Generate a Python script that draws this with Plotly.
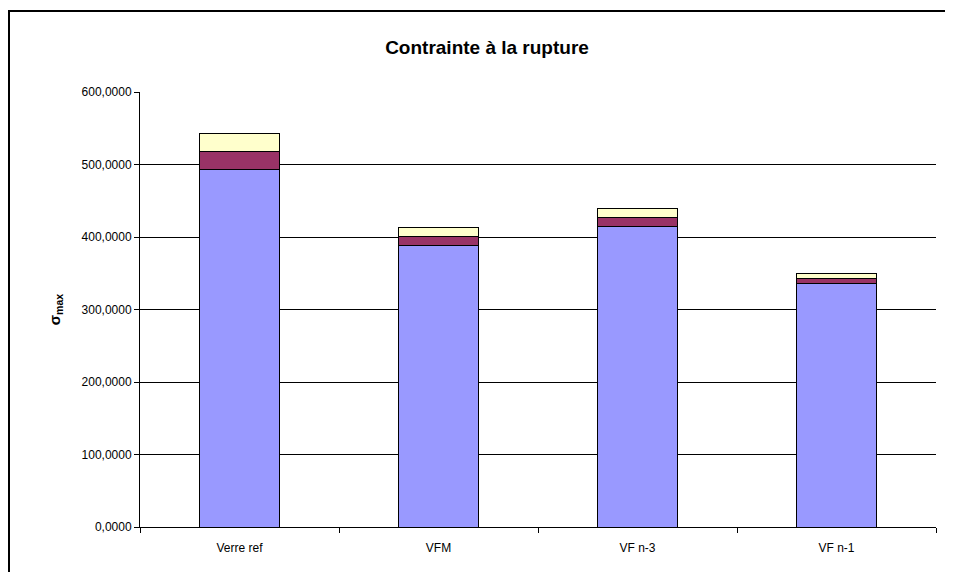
import plotly.graph_objects as go

categories = ["Verre ref", "VFM", "VF n-3", "VF n-1"]
base_values = [493, 388, 414, 336]
mid_values = [25, 12.5, 13, 6.5]
top_values = [25, 13, 13, 6.5]

colors = ["#9999FF", "#993366", "#FFFFCC"]
names = ["base", "mid", "top"]

fig = go.Figure()
for vals, c, n in zip([base_values, mid_values, top_values], colors, names):
    fig.add_trace(go.Bar(
        x=categories, y=vals, name=n,
        marker=dict(color=c, line=dict(color="#000000", width=1)),
        width=0.4,
    ))

OFF = 8  # page body margin
W, H = 953 - 2 * OFF, 580 - 2 * OFF
L, R, T, B = 140 - OFF, 936 - OFF, 92 - OFF, 527 - OFF
pw, ph = R - L, B - T

def px(x):
    return (x - OFF - L) / pw

def py(y):
    return (B - (y - OFF)) / ph

fig.update_layout(
    barmode="stack",
    width=W, height=H,
    margin=dict(l=L, r=W - R, t=T, b=H - B, pad=0),
    paper_bgcolor="white", plot_bgcolor="white",
    showlegend=False,
    separators=", ",
    font=dict(family="Liberation Sans, Arial, sans-serif", size=12, color="#000000"),
    title=dict(text="<b>Contrainte à la rupture</b>", x=(487 - OFF) / W, xanchor="center",
               y=1 - (47 - OFF) / H, yanchor="middle", yref="container", xref="container",
               font=dict(size=19, color="#000000")),
    xaxis=dict(
        showline=True, linecolor="#000000", linewidth=1,
        ticks="outside", ticklen=5, tickcolor="#000000", tickson="boundaries",
        showgrid=False, tickfont=dict(size=12), ticklabelstandoff=10,
    ),
    yaxis=dict(
        range=[0, 600], dtick=100, tickformat=".4f",
        showline=True, linecolor="#000000", linewidth=1,
        ticks="outside", ticklen=5, tickcolor="#000000",
        showgrid=True, gridcolor="#000000", gridwidth=1,
        zeroline=False, tickfont=dict(size=12),
        title=dict(text="<b>σ<sub>max</sub></b>", font=dict(size=15), standoff=17),
    ),
    shapes=[
        dict(type="rect", xref="paper", yref="paper",
             x0=px(8), x1=px(953), y0=py(12), y1=py(10),
             fillcolor="#000000", line=dict(width=0), layer="below"),
        dict(type="rect", xref="paper", yref="paper",
             x0=px(8), x1=px(10), y0=py(580), y1=py(10),
             fillcolor="#000000", line=dict(width=0), layer="below"),
    ],
)

fig.write_html("out.html")
